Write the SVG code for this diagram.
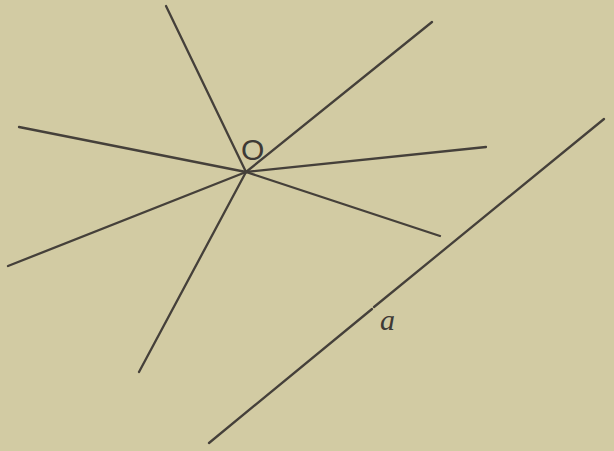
<svg xmlns="http://www.w3.org/2000/svg" width="614" height="451" viewBox="0 0 614 451">
<style>
.ln{stroke:#45403a;stroke-width:2.3;stroke-linecap:round;fill:none}
.lb{font-family:"Liberation Sans",Arial,sans-serif;fill:#3e3a35}
.la{font-family:"Liberation Serif","Times New Roman",serif;font-style:italic;fill:#3e3a35}
</style>
<rect width="614" height="451" fill="#d2cba3"/>
<g id="connectors">
<line class="ln" x1="246" y1="172" x2="166" y2="6"/>
<line class="ln" x1="246" y1="172" x2="432" y2="22"/>
<line class="ln" x1="246" y1="172" x2="19" y2="127"/>
<line class="ln" x1="246" y1="172" x2="486" y2="147"/>
<line class="ln" x1="246" y1="172" x2="8" y2="266"/>
<line class="ln" x1="246" y1="172" x2="440" y2="236"/>
<line class="ln" x1="246" y1="172" x2="139" y2="372"/>
<line class="ln" x1="209" y1="443" x2="372" y2="309" stroke-width="2.6"/>
<line class="ln" x1="374" y1="307" x2="604" y2="119" stroke-width="2.6"/>
</g>
<g id="node-O">
<text class="lb" x="241" y="160" font-size="30">O</text>
</g>
<g id="node-a">
<text class="la" x="380" y="330" font-size="30">a</text>
</g>
</svg>
